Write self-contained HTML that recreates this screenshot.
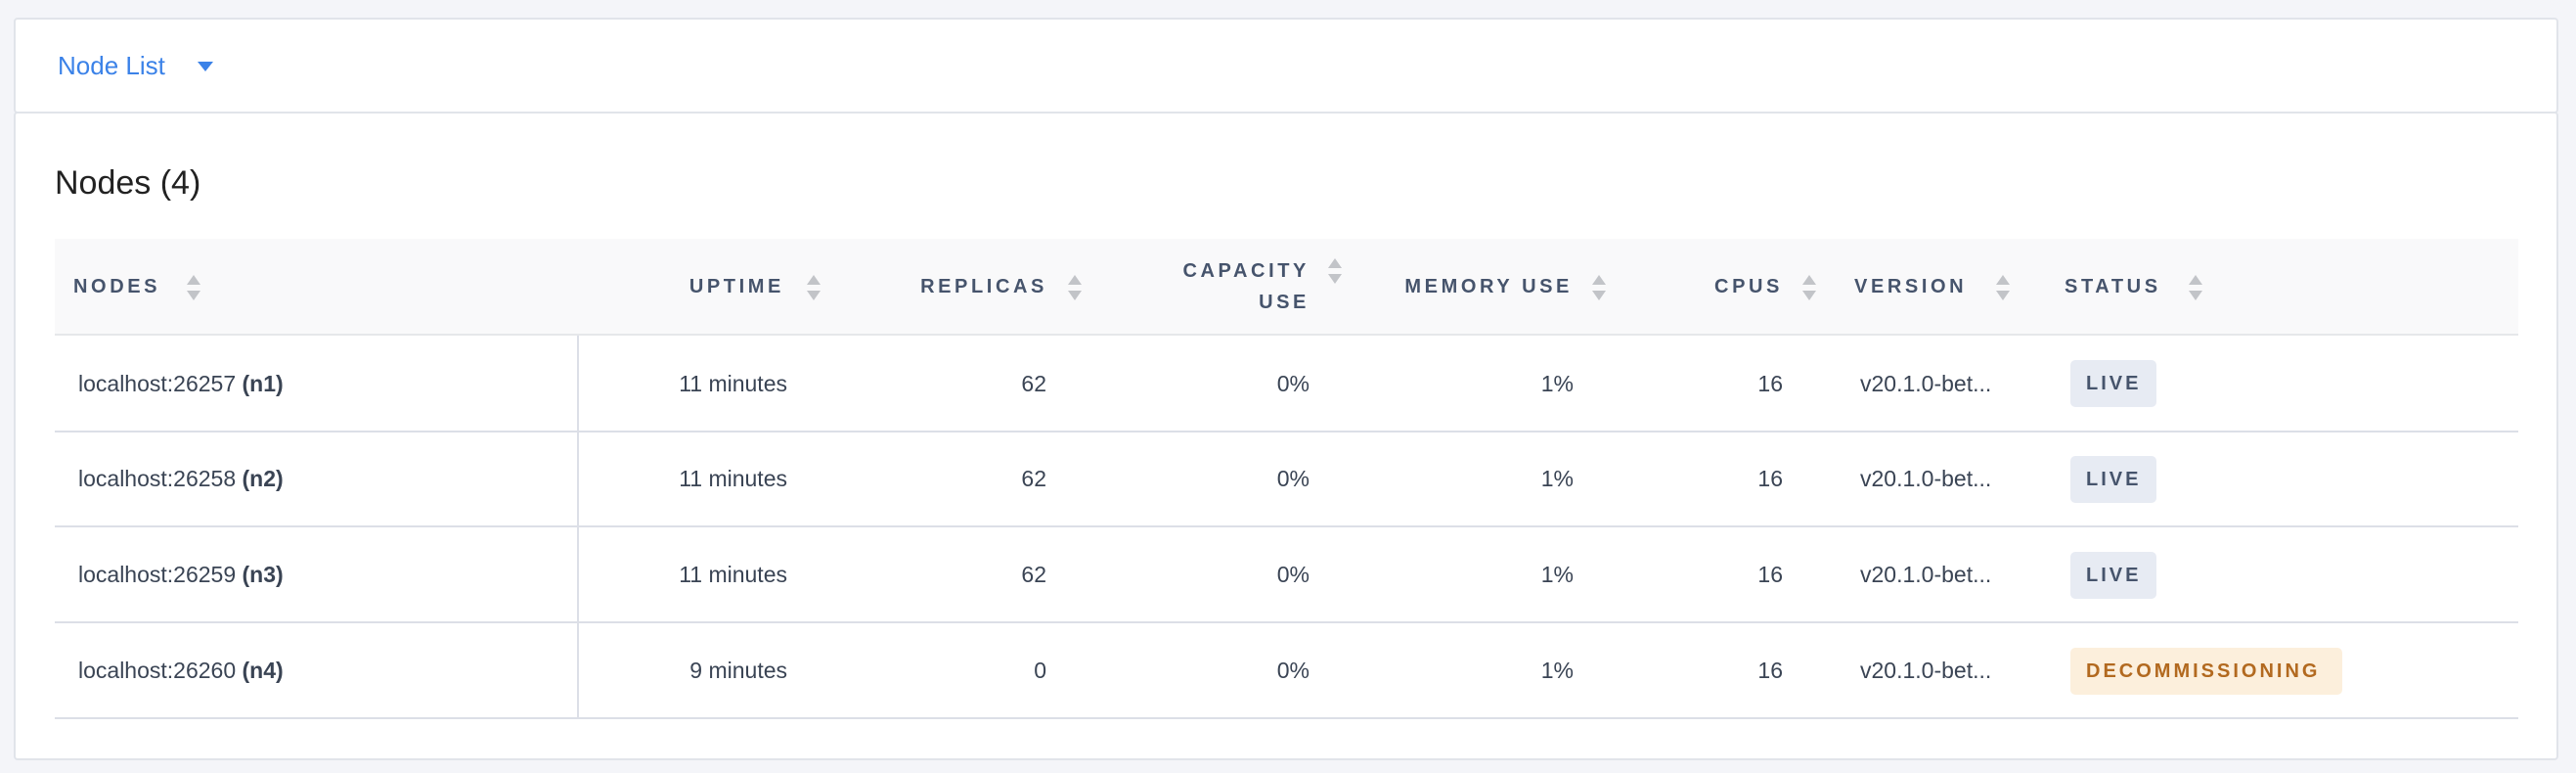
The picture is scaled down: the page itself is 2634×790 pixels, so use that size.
<!DOCTYPE html>
<html><head><meta charset="utf-8"><style>
*{margin:0;padding:0;box-sizing:border-box}
body{width:2634px;height:790px;background:#f4f5f9;font-family:"Liberation Sans",sans-serif;position:relative;overflow:hidden}
.a{position:absolute;white-space:nowrap}
.card{position:absolute;background:#fff;border:2px solid #e1e4ea;border-radius:4px}
.h{font-weight:bold;font-size:20px;letter-spacing:3.6px;color:#46546c;line-height:22px}
.r{text-align:right}
.v{font-size:23px;color:#3a4454;line-height:26px}
.arr{position:absolute;width:15px;height:26px}
.arr:before{content:"";position:absolute;left:0;top:0;border-left:7.5px solid transparent;border-right:7.5px solid transparent;border-bottom:10px solid #c2c4c8}
.arr:after{content:"";position:absolute;left:0;bottom:0;border-left:7.5px solid transparent;border-right:7.5px solid transparent;border-top:10px solid #c2c4c8}
.line{position:absolute;left:56px;width:2519px;height:2px;background:#dcdfe7}
.badge{position:absolute;left:2117px;height:48px;border-radius:5px;background:#e7ebf3;color:#46546c;font-weight:bold;font-size:20px;letter-spacing:3px;line-height:48px;padding-left:16px}
</style></head><body>
<div class="card" style="left:14px;top:18px;width:2602px;height:98px"></div>
<div class="card" style="left:14px;top:114px;width:2602px;height:663px;border-top:2px solid #e1e4ea"></div>
<div class="a" style="left:59px;top:52px;font-size:26px;color:#3b82e8;line-height:30px">Node List</div>
<div class="a" style="left:202px;top:63px;border-left:8px solid transparent;border-right:8px solid transparent;border-top:10px solid #3b82e8"></div>
<div class="a" style="left:56px;top:167px;font-size:34px;color:#222;line-height:40px">Nodes (4)</div>
<div class="a" style="left:56px;top:244px;width:2519px;height:98px;background:#f9f9fa"></div>
<div class="line" style="top:341px;background:#e6e7ea"></div>
<div class="line" style="top:440px"></div>
<div class="line" style="top:537px"></div>
<div class="line" style="top:635px"></div>
<div class="line" style="top:733px"></div>
<div class="a" style="left:590px;top:343px;width:2px;height:391px;background:#dcdfe7"></div>

<div class="a h" style="left:75px;top:282px">NODES</div><div class="arr" style="left:191px;top:281px"></div>
<div class="a h r" style="right:1832px;top:282px">UPTIME</div><div class="arr" style="left:825px;top:281px"></div>
<div class="a h r" style="right:1563px;top:282px">REPLICAS</div><div class="arr" style="left:1092px;top:281px"></div>
<div class="a h r" style="right:1295px;top:266px">CAPACITY</div><div class="a h r" style="right:1295px;top:298px">USE</div><div class="arr" style="left:1358px;top:264px"></div>
<div class="a h r" style="right:1026px;top:282px">MEMORY USE</div><div class="arr" style="left:1628px;top:281px"></div>
<div class="a h r" style="right:811px;top:282px">CPUS</div><div class="arr" style="left:1843px;top:281px"></div>
<div class="a h" style="left:1896px;top:282px">VERSION</div><div class="arr" style="left:2041px;top:281px"></div>
<div class="a h" style="left:2111px;top:282px">STATUS</div><div class="arr" style="left:2238px;top:281px"></div>

<div class="a v" style="left:80px;top:379px">localhost:26257 <b>(n1)</b></div>
<div class="a v" style="left:80px;top:476px">localhost:26258 <b>(n2)</b></div>
<div class="a v" style="left:80px;top:574px">localhost:26259 <b>(n3)</b></div>
<div class="a v" style="left:80px;top:672px">localhost:26260 <b>(n4)</b></div>

<div class="a v r" style="right:1829px;top:379px">11 minutes</div>
<div class="a v r" style="right:1829px;top:476px">11 minutes</div>
<div class="a v r" style="right:1829px;top:574px">11 minutes</div>
<div class="a v r" style="right:1829px;top:672px">9 minutes</div>

<div class="a v r" style="right:1564px;top:379px">62</div>
<div class="a v r" style="right:1564px;top:476px">62</div>
<div class="a v r" style="right:1564px;top:574px">62</div>
<div class="a v r" style="right:1564px;top:672px">0</div>

<div class="a v r" style="right:1295px;top:379px">0%</div>
<div class="a v r" style="right:1295px;top:476px">0%</div>
<div class="a v r" style="right:1295px;top:574px">0%</div>
<div class="a v r" style="right:1295px;top:672px">0%</div>

<div class="a v r" style="right:1025px;top:379px">1%</div>
<div class="a v r" style="right:1025px;top:476px">1%</div>
<div class="a v r" style="right:1025px;top:574px">1%</div>
<div class="a v r" style="right:1025px;top:672px">1%</div>

<div class="a v r" style="right:811px;top:379px">16</div>
<div class="a v r" style="right:811px;top:476px">16</div>
<div class="a v r" style="right:811px;top:574px">16</div>
<div class="a v r" style="right:811px;top:672px">16</div>

<div class="a v" style="left:1902px;top:379px">v20.1.0-bet...</div>
<div class="a v" style="left:1902px;top:476px">v20.1.0-bet...</div>
<div class="a v" style="left:1902px;top:574px">v20.1.0-bet...</div>
<div class="a v" style="left:1902px;top:672px">v20.1.0-bet...</div>

<div class="badge" style="top:368px;width:88px">LIVE</div>
<div class="badge" style="top:466px;width:88px">LIVE</div>
<div class="badge" style="top:564px;width:88px">LIVE</div>
<div class="badge" style="top:662px;width:278px;background:#fcefdc;color:#b2691f">DECOMMISSIONING</div>
</body></html>
